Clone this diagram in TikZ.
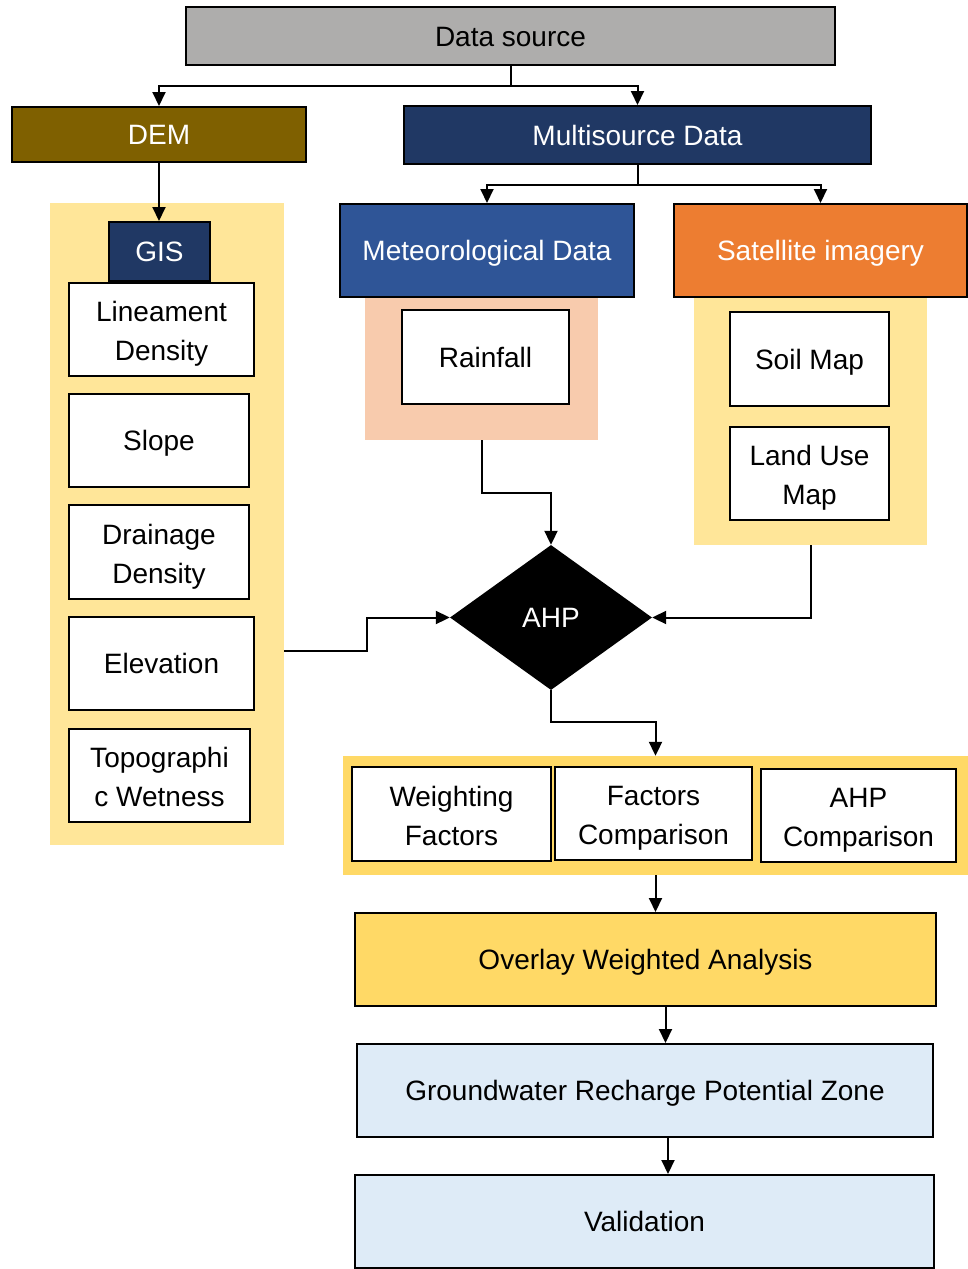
\documentclass[tikz,border=0pt]{standalone}
\usepackage{fontspec}
\setmainfont{Liberation Sans}
\usetikzlibrary{shapes.geometric,arrows.meta}
\definecolor{dsgray}{HTML}{AEADAC}
\definecolor{demc}{HTML}{7F6000}
\definecolor{navy}{HTML}{203864}
\definecolor{metblue}{HTML}{2F5597}
\definecolor{orng}{HTML}{ED7D31}
\definecolor{pyellow}{HTML}{FFE699}
\definecolor{peach}{HTML}{F8CBAD}
\definecolor{gold}{HTML}{FFD966}
\definecolor{lblue}{HTML}{DEEBF7}
\newcommand\capline[1]{\rule{0pt}{20pt}\smash{#1}}
\newcommand\capfirst[1]{\rule{0pt}{23pt}\smash{#1}}
\begin{document}
\begin{tikzpicture}[x=1pt,y=-1pt,
  box/.style={draw=black,line width=2pt,align=center,inner sep=0pt,font=\fontsize{28}{39}\selectfont},
  one/.style={text height=20pt,text depth=0pt},
  panel/.style={inner sep=0pt,draw=none},
  arr/.style={line width=2pt,-{Triangle[length=14pt,width=13pt]}}]
\useasboundingbox (0,0) rectangle (968,1269);
% panels
\node[panel,fill=pyellow,minimum width=234pt,minimum height=642pt] (lp) at (167,524) {};
\node[panel,fill=peach,minimum width=233pt,minimum height=143pt] (rp) at (481.5,368.5) {};
\node[panel,fill=pyellow,minimum width=233pt,minimum height=248pt] (sp) at (810.5,421) {};
\node[panel,fill=gold,minimum width=625pt,minimum height=119pt] (bp) at (655.5,815.5) {};
% boxes
\node[box,one,fill=dsgray,minimum width=649pt,minimum height=58pt] (ds) at (510.5,36) {Data source};
\node[box,one,fill=demc,text=white,minimum width=294pt,minimum height=55pt] (dem) at (159,134.5) {DEM};
\node[box,one,fill=navy,text=white,minimum width=467pt,minimum height=58pt] (ms) at (637.5,135) {Multisource Data};
\node[box,one,fill=metblue,text=white,minimum width=294pt,minimum height=93pt] (met) at (487,250.5) {Meteorological Data};
\node[box,one,fill=orng,text=white,minimum width=293pt,minimum height=93pt] (sat) at (820.5,250.5) {Satellite imagery};
\node[box,one,fill=navy,text=white,minimum width=101pt,minimum height=59pt] (gis) at (159.5,251.5) {GIS};
\node[box,fill=white,minimum width=185pt,minimum height=93pt] (lin) at (161.5,329.5) {\capfirst{Lineament}\\\capline{Density}};
\node[box,one,fill=white,minimum width=180pt,minimum height=93pt] (slope) at (159,440.5) {Slope};
\node[box,fill=white,minimum width=180pt,minimum height=94pt] (drain) at (159,552) {\capfirst{Drainage}\\\capline{Density}};
\node[box,one,fill=white,minimum width=185pt,minimum height=93pt] (elev) at (161.5,663.5) {Elevation};
\node[box,fill=white,minimum width=181pt,minimum height=93pt] (topo) at (159.5,775.5) {\capfirst{Topographi}\\\capline{c Wetness}};
\node[box,one,fill=white,minimum width=167pt,minimum height=94pt] (rain) at (485.5,357) {Rainfall};
\node[box,one,fill=white,minimum width=159pt,minimum height=94pt] (soil) at (809.5,359) {Soil Map};
\node[box,fill=white,minimum width=159pt,minimum height=93pt] (land) at (809.5,473.5) {\capfirst{Land Use}\\\capline{Map}};
\node[diamond,fill=black,text=white,inner sep=0pt,minimum width=202pt,minimum height=145pt,font=\fontsize{28}{39}\selectfont,text height=20pt,text depth=0pt] (ahp) at (551,617.5) {AHP};
\node[box,fill=white,minimum width=199pt,minimum height=94pt] (wf) at (451.5,814) {\capfirst{Weighting}\\\capline{Factors}};
\node[box,fill=white,minimum width=197pt,minimum height=93pt] (fc) at (653.5,813.5) {\capfirst{Factors}\\\capline{Comparison}};
\node[box,fill=white,minimum width=195pt,minimum height=93pt] (ac) at (858.5,815.5) {\capfirst{AHP}\\\capline{Comparison}};
\node[box,one,fill=gold,minimum width=581pt,minimum height=93pt] (ov) at (645.5,959.5) {Overlay Weighted Analysis};
\node[box,one,fill=lblue,minimum width=576pt,minimum height=93pt] (gw) at (645,1090.5) {Groundwater Recharge Potential Zone};
\node[box,one,fill=lblue,minimum width=579pt,minimum height=93pt] (val) at (644.5,1221.5) {Validation};
% connectors
\draw[arr] (ds.south) -- ++(0,20) -| (dem.north);
\draw[arr] (ds.south) -- ++(0,20) -| (ms.north);
\draw[arr] (ms.south) -- ++(0,20) -| (met.north);
\draw[arr] (ms.south) -- ++(0,20) -| (sat.north);
\draw[arr] (dem.south) -- (dem.south |- gis.north);
\draw[arr] (rp.south) -- ++(0,53) -| (ahp.north);
\draw[arr] (sp.south) |- (ahp.east);
\draw[arr] ([yshift=-127pt]lp.east) -- ++(83,0) |- (ahp.west);
\draw[arr] (ahp.south) -- ++(0,32) -| (bp.north);
\draw[arr] (bp.south) -- (bp.south |- ov.north);
\draw[arr] ([xshift=20pt]ov.south) -- ([xshift=20pt]ov.south |- gw.north);
\draw[arr] ([xshift=23pt]gw.south) -- ([xshift=23pt]gw.south |- val.north);
\end{tikzpicture}
\end{document}
